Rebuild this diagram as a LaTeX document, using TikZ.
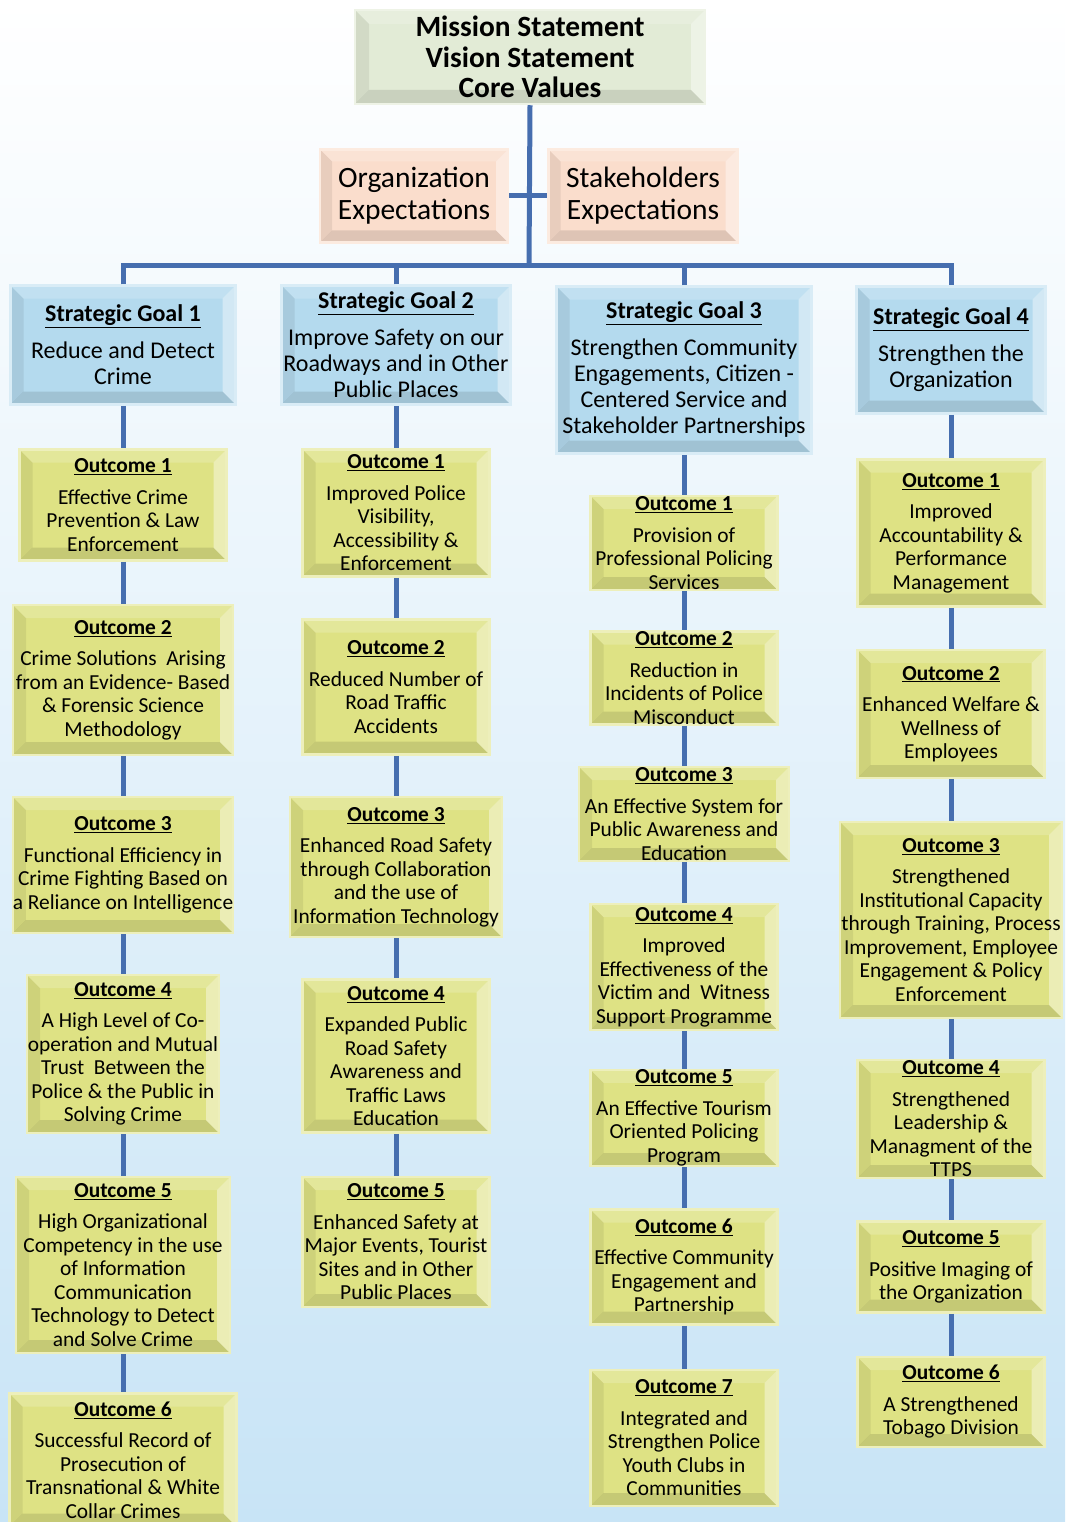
\documentclass[tikz,border=0pt]{standalone}
\usepackage{fontspec}
\setmainfont{Carlito}

\definecolor{missfill}{RGB}{226,235,214}
\definecolor{expfill}{RGB}{250,221,204}
\definecolor{goalfill}{RGB}{180,218,238}
\definecolor{outfill}{RGB}{222,226,132}
\definecolor{linkcol}{RGB}{70,110,175}
\definecolor{bgblue}{RGB}{200,228,246}

\tikzset{
  bevel/.style={path picture={
    \fill[black,opacity=.07] (path picture bounding box.north west) -- (path picture bounding box.south west) -- ([shift={(#1,-#1)}]path picture bounding box.south west) -- ([shift={(#1,#1)}]path picture bounding box.north west) -- cycle;
    \fill[black,opacity=.11] (path picture bounding box.south west) -- (path picture bounding box.south east) -- ([shift={(-#1,-#1)}]path picture bounding box.south east) -- ([shift={(#1,-#1)}]path picture bounding box.south west) -- cycle;
    \fill[white,opacity=.40] (path picture bounding box.south east) -- (path picture bounding box.north east) -- ([shift={(-#1,#1)}]path picture bounding box.north east) -- ([shift={(-#1,-#1)}]path picture bounding box.south east) -- cycle;
    \fill[white,opacity=.18] (path picture bounding box.north east) -- (path picture bounding box.north west) -- ([shift={(#1,#1)}]path picture bounding box.north west) -- ([shift={(-#1,#1)}]path picture bounding box.north east) -- cycle;
  }},
  box/.style={rectangle, inner sep=0pt, align=center, line width=2.5, text=black},
  missbox/.style={box, fill=missfill, draw=missfill!60!white, bevel=14, font=\fontsize{29.4}{30.5}\selectfont\bfseries},
  expbox/.style={box, fill=expfill, draw=expfill!60!white, bevel=12, font=\fontsize{29.5}{32}\selectfont},
  goalbox/.style={box, fill=goalfill, draw=goalfill!50!white, bevel=13, font=\fontsize{24}{26}\selectfont},
  outbox/.style={box, fill=outfill, draw=outfill!55!white, bevel=13, font=\fontsize{21.4}{23.5}\selectfont},
  link/.style={draw=linkcol, line width=5}
}

\newcommand{\goalhead}[1]{\textbf{\underline{Strategic Goal #1}}\\[11pt]}
\newcommand{\outhead}[1]{\textbf{\underline{Outcome #1}}\\[8pt]}

\begin{document}
\begin{tikzpicture}[x=1pt,y=-1pt]

    \useasboundingbox (0,0) rectangle (1065,1522);
    \clip (0,0) rectangle (1065,1522);
    \shade[top color=white, middle color=white!70!bgblue, bottom color=bgblue] (0,0) rectangle (1065,1522);

    % top of the tree
    \node[missbox, minimum width=350, minimum height=94] (Mission) at (530,57) {Mission Statement\\Vision Statement\\Core Values};
    \node[expbox, minimum width=188, minimum height=93] (OrgExp) at (414,196) {Organization\\Expectations};
    \node[expbox, minimum width=189, minimum height=93] (StakeExp) at (643,196) {Stakeholders\\Expectations};
    \coordinate (Hub) at (529,265);

    % strategic goals
    \node[goalbox, minimum width=225, minimum height=119] (GoalA) at (123,345) {\goalhead{1}Reduce and Detect\\Crime};
    \node[goalbox, minimum width=229, minimum height=119] (GoalB) at (396,345) {\goalhead{2}Improve Safety on our\\Roadways and in Other\\Public Places};
    \node[goalbox, minimum width=255, minimum height=167] (GoalC) at (684,370) {\goalhead{3}Strengthen Community\\Engagements, Citizen -\\Centered Service and\\Stakeholder Partnerships};
    \node[goalbox, minimum width=189, minimum height=127] (GoalD) at (951,350) {\goalhead{4}Strengthen the\\Organization};

    % outcomes of goal 1
    \node[outbox, minimum width=207, minimum height=111] (OutA1) at (123,505) {\outhead{1}Effective Crime\\Prevention \& Law\\Enforcement};
    \node[outbox, minimum width=220, minimum height=150] (OutA2) at (123,680) {\outhead{2}Crime Solutions~ Arising\\from an Evidence- Based\\\& Forensic Science\\Methodology};
    \node[outbox, minimum width=220, minimum height=136] (OutA3) at (123,865) {\outhead{3}Functional Efficiency in\\Crime Fighting Based on\\a Reliance on Intelligence};
    \node[outbox, minimum width=192, minimum height=158] (OutA4) at (123,1054) {\outhead{4}A High Level of Co-\\operation and Mutual\\Trust~ Between the\\Police \& the Public in\\Solving Crime};
    \node[outbox, minimum width=214, minimum height=176] (OutA5) at (123,1265) {\outhead{5}High Organizational\\Competency in the use\\of Information\\Communication\\Technology to Detect\\and Solve Crime};
    \node[outbox, minimum width=227, minimum height=133] (OutA6) at (123,1460) {\outhead{6}Successful Record of\\Prosecution of\\Transnational \& White\\Collar Crimes};

    % outcomes of goal 2
    \node[outbox, minimum width=187, minimum height=127] (OutB1) at (396,513) {\outhead{1}Improved Police\\Visibility,\\Accessibility \&\\Enforcement};
    \node[outbox, minimum width=187, minimum height=135] (OutB2) at (396,687) {\outhead{2}Reduced Number of\\Road Traffic\\Accidents};
    \node[outbox, minimum width=212, minimum height=140] (OutB3) at (396,867) {\outhead{3}Enhanced Road Safety\\through Collaboration\\and the use of\\Information Technology};
    \node[outbox, minimum width=187, minimum height=153] (OutB4) at (396,1056) {\outhead{4}Expanded Public\\Road Safety\\Awareness and\\Traffic Laws\\Education};
    \node[outbox, minimum width=187, minimum height=130] (OutB5) at (396,1242) {\outhead{5}Enhanced Safety at\\Major Events, Tourist\\Sites and in Other\\Public Places};

    % outcomes of goal 3
    \node[outbox, minimum width=187, minimum height=94] (OutC1) at (684,543) {\outhead{1}Provision of\\Professional Policing\\Services};
    \node[outbox, minimum width=187, minimum height=93] (OutC2) at (684,678) {\outhead{2}Reduction in\\Incidents of Police\\Misconduct};
    \node[outbox, minimum width=210, minimum height=94] (OutC3) at (684,814) {\outhead{3}An Effective System for\\Public Awareness and\\Education};
    \node[outbox, minimum width=187, minimum height=126] (OutC4) at (684,967) {\outhead{4}Improved\\Effectiveness of the\\Victim and~ Witness\\Support Programme};
    \node[outbox, minimum width=187, minimum height=91] (OutC5) at (684,1118) {\outhead{5}An Effective Tourism\\Oriented Policing\\Program};
    \node[outbox, minimum width=187, minimum height=115] (OutC6) at (684,1267) {\outhead{6}Effective Community\\Engagement and\\Partnership};
    \node[outbox, minimum width=187, minimum height=136] (OutC7) at (684,1438) {\outhead{7}Integrated and\\Strengthen Police\\Youth Clubs in\\Communities};

    % outcomes of goal 4
    \node[outbox, minimum width=187, minimum height=147] (OutD1) at (951,533) {\outhead{1}Improved\\Accountability \&\\Performance\\Management};
    \node[outbox, minimum width=187, minimum height=128] (OutD2) at (951,714) {\outhead{2}Enhanced Welfare \&\\Wellness of\\Employees};
    \node[outbox, minimum width=222, minimum height=196] (OutD3) at (951,920) {\outhead{3}Strengthened\\Institutional Capacity\\through Training, Process\\Improvement, Employee\\Engagement \& Policy\\Enforcement};
    \node[outbox, minimum width=187, minimum height=118] (OutD4) at (951,1119) {\outhead{4}Strengthened\\Leadership \&\\Managment of the\\TTPS};
    \node[outbox, minimum width=187, minimum height=91] (OutD5) at (951,1267) {\outhead{5}Positive Imaging of\\the Organization};
    \node[outbox, minimum width=187, minimum height=90] (OutD6) at (951,1402) {\outhead{6}A Strengthened\\Tobago Division};

    % connectors
    \draw[link] (Mission.south) -- (Hub);
    \draw[link] (OrgExp.east) -- (StakeExp.west);
    \draw[link] (GoalA.north) -- (GoalA.north |- Hub) -- (GoalD.north |- Hub) -- (GoalD.north);
    \draw[link] (GoalB.north) -- (GoalB.north |- Hub);
    \draw[link] (GoalC.north) -- (GoalC.north |- Hub);

    \draw[link] (GoalA.south) -- (OutA1.north) (OutA1.south) -- (OutA2.north) (OutA2.south) -- (OutA3.north) (OutA3.south) -- (OutA4.north) (OutA4.south) -- (OutA5.north) (OutA5.south) -- (OutA6.north);
    \draw[link] (GoalB.south) -- (OutB1.north) (OutB1.south) -- (OutB2.north) (OutB2.south) -- (OutB3.north) (OutB3.south) -- (OutB4.north) (OutB4.south) -- (OutB5.north);
    \draw[link] (GoalC.south) -- (OutC1.north) (OutC1.south) -- (OutC2.north) (OutC2.south) -- (OutC3.north) (OutC3.south) -- (OutC4.north) (OutC4.south) -- (OutC5.north) (OutC5.south) -- (OutC6.north) (OutC6.south) -- (OutC7.north);
    \draw[link] (GoalD.south) -- (OutD1.north) (OutD1.south) -- (OutD2.north) (OutD2.south) -- (OutD3.north) (OutD3.south) -- (OutD4.north) (OutD4.south) -- (OutD5.north) (OutD5.south) -- (OutD6.north);

\end{tikzpicture}
\end{document}
